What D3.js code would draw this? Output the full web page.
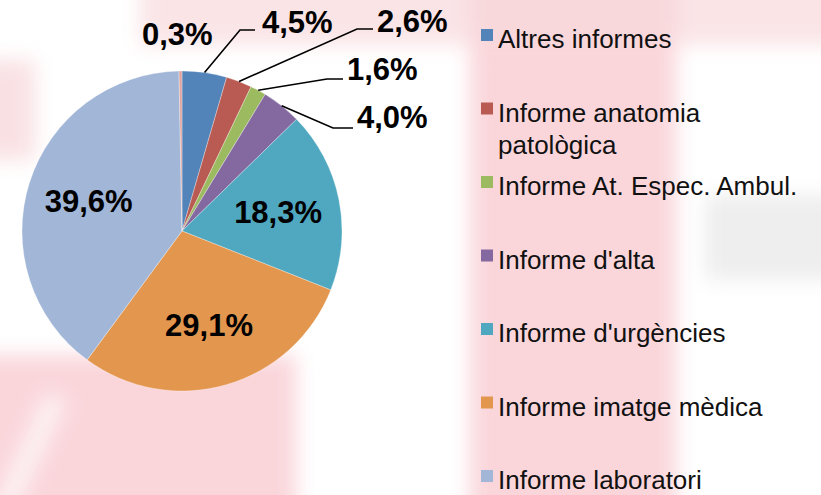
<!DOCTYPE html>
<html>
<head>
<meta charset="utf-8">
<script src="https://cdn.jsdelivr.net/npm/d3@7"></script>
<style>
  html, body { margin: 0; padding: 0; background: #fff; }
  svg { display: block; font-family: "Liberation Sans", Arial, sans-serif; }
  #bg { position: absolute; left: 0; top: 0; width: 821px; height: 495px; overflow: hidden; }
  #bg div { position: absolute; filter: blur(10px); }
  #chart { position: absolute; left: 0; top: 0; }
</style>
</head>
<body>
<div id="bg"></div>
<div id="chart"></div>
<script>
// categories and values (percent)
var categories = ["Altres informes", "Informe anatomia patològica", "Informe At. Espec. Ambul.",
  "Informe d'alta", "Informe d'urgències", "Informe imatge mèdica", "Informe laboratori", "Altres"];
var values = [4.5, 2.6, 1.6, 4.0, 18.3, 29.1, 39.6, 0.3];
var valueLabels = ["4,5%", "2,6%", "1,6%", "4,0%", "18,3%", "29,1%", "39,6%", "0,3%"];
// legend shows the first seven only
var legendLines = [["Altres informes"], ["Informe anatomia", "patològica"], ["Informe At. Espec. Ambul."],
  ["Informe d'alta"], ["Informe d'urgències"], ["Informe imatge mèdica"], ["Informe laboratori"]];
var colors = ["#5283b9", "#b95b52", "#9cba5f", "#8469a0", "#4fa8c0", "#e3964e", "#a2b7d8", "#e0a5a0"];

var w = 821, h = 495;
var cx = 182, cy = 231, r = 160;

// faint pink backdrop, blurred blocks
var blocks = [
  { x: 470, y: -40, w: 206, h: 580, c: "#fad6db", o: 1 },
  { x: -40, y: 355, w: 336, h: 180, c: "#fad6db", o: 1 },
  { x: 140, y: -40, w: 720, h: 85, c: "#f8d9dc", o: 0.7 },
  { x: -40, y: 60, w: 75, h: 100, c: "#f8dadd", o: 0.8 },
  { x: 705, y: 195, w: 140, h: 85, c: "#eeeeee", o: 1 }
];
d3.select("#bg").selectAll("div")
  .data(blocks)
  .enter()
  .append("div")
  .style("left", function(d) { return d.x + "px"; })
  .style("top", function(d) { return d.y + "px"; })
  .style("width", function(d) { return d.w + "px"; })
  .style("height", function(d) { return d.h + "px"; })
  .style("background", function(d) { return d.c; })
  .style("opacity", function(d) { return d.o; });
d3.select("#bg").append("div")
  .style("left", "16px").style("top", "390px").style("width", "22px").style("height", "140px")
  .style("background", "#fdf3f4")
  .style("transform", "rotate(25deg)");

var svg = d3.select("#chart").append("svg")
  .attr("width", w)
  .attr("height", h);

// pie
var pie = d3.pie().sort(null).value(function(d) { return d; });
var arcs = pie(values);
var arc = d3.arc().innerRadius(0).outerRadius(r);
var labelArc = d3.arc().innerRadius(98).outerRadius(98);

var g = svg.append("g").attr("transform", "translate(" + cx + "," + cy + ")");

g.selectAll("path.slice")
  .data(arcs)
  .enter()
  .append("path")
  .attr("class", "slice")
  .attr("d", arc)
  .style("fill", function(d, i) { return colors[i]; })
  .style("stroke", "#ffffff")
  .style("stroke-width", 0.5)
  .style("stroke-opacity", 0.6);

// label layout (relative to pie centre): elbow, line end, text start; null = inside centroid
var labelLayout = [
  { elbow: [58, -201], end: [73, -201], text: [80, -198] },
  { elbow: [175, -202], end: [191, -202], text: [195, -199] },
  { elbow: [145, -152], end: [161, -152], text: [165, -151] },
  { elbow: [151, -103], end: [171, -103], text: [175, -103] },
  null, null, null,
  { elbow: null, end: null, text: [-40, -186] }
];

arcs.forEach(function(d, i) {
  var lay = labelLayout[i];
  if (!lay) {
    var c = labelArc.centroid(d);
    g.append("text")
      .attr("x", c[0]).attr("y", c[1])
      .attr("dy", "0.36em")
      .attr("text-anchor", "middle")
      .style("font-size", "31px")
      .style("font-weight", "bold")
      .text(valueLabels[i]);
    return;
  }
  if (lay.elbow) {
    var a = (d.startAngle + d.endAngle) / 2;
    var p0 = [r * Math.sin(a), -r * Math.cos(a)];
    g.append("polyline")
      .attr("points", [p0, lay.elbow, lay.end].map(function(p) { return p.join(","); }).join(" "))
      .style("fill", "none")
      .style("stroke", "#000")
      .style("stroke-width", 1.6);
  }
  g.append("text")
    .attr("x", lay.text[0]).attr("y", lay.text[1])
    .style("font-size", "31px")
    .style("font-weight", "bold")
    .text(valueLabels[i]);
});

// legend
var legend = svg.append("g").attr("transform", "translate(481,0)");
var rowY = d3.scaleLinear().domain([0, 6]).range([48, 489]);

var item = legend.selectAll("g.item")
  .data(legendLines)
  .enter()
  .append("g")
  .attr("class", "item")
  .attr("transform", function(d, i) { return "translate(0," + rowY(i) + ")"; });

item.append("rect")
  .attr("x", 0).attr("y", -19)
  .attr("width", 12).attr("height", 12)
  .style("fill", function(d, i) { return colors[i]; });

item.append("text")
  .style("font-size", "26px")
  .style("fill", "#111")
  .selectAll("tspan")
  .data(function(d) { return d; })
  .enter()
  .append("tspan")
  .attr("x", 17)
  .attr("y", function(d, j) { return j * 32; })
  .text(function(d) { return d; });
</script>
</body>
</html>
